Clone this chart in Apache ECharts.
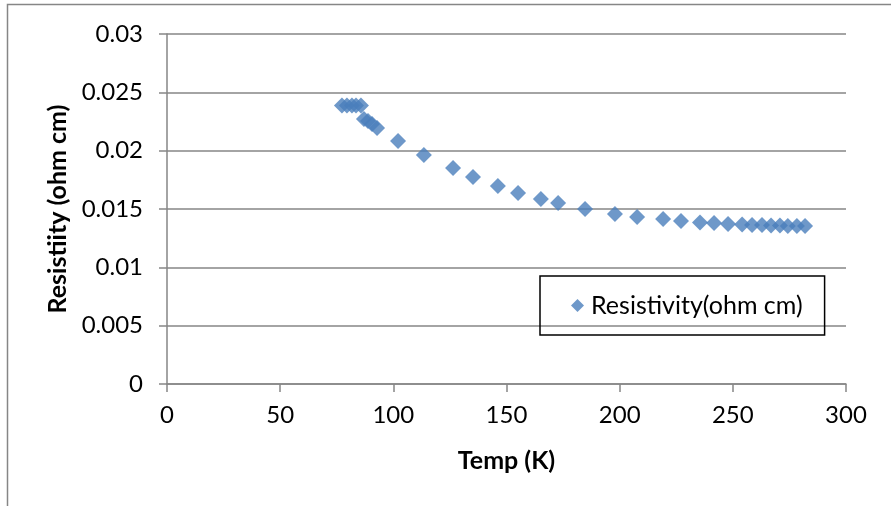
<!DOCTYPE html>
<html>
<head>
<meta charset="utf-8">
<script src="https://cdn.jsdelivr.net/npm/echarts@6/dist/echarts.min.js"></script>
<style>
  html, body { margin: 0; padding: 0; background: #fff; }
  #chart { width: 891px; height: 506px; }
</style>
</head>
<body>
<div id="chart"></div>
<script>
// Temperature sweep (K) and measured resistivity (ohm cm)
const temps = [77.3, 79.5, 81.7, 83.5, 85.7, 87.0, 88.8, 90.6, 92.8,
  102.1, 113.5, 126.4, 135.2, 146.2, 155.1, 165.2, 172.8, 184.7, 197.9,
  207.7, 219.2, 227.1, 235.5, 241.7, 247.9, 254.1, 258.5, 262.9, 266.9,
  270.8, 274.3, 278.3, 281.9];
const resistivity = [0.02387, 0.02387, 0.02387, 0.02387, 0.02387, 0.02271, 0.02254, 0.02229, 0.02195,
  0.02083, 0.01963, 0.01851, 0.01774, 0.01697, 0.01637, 0.01586, 0.01552, 0.01500, 0.01457,
  0.01431, 0.01414, 0.01397, 0.01384, 0.01380, 0.01371, 0.01367, 0.01363, 0.01363, 0.01359,
  0.01359, 0.01354, 0.01354, 0.01354];
const yTickLabels = ['0', '0.005', '0.01', '0.015', '0.02', '0.025', '0.03'];
const seriesName = 'Resistivity(ohm cm)';

const font = 'Lato, "Open Sans", sans-serif';
const grey = '#868686';

const chart = echarts.init(document.getElementById('chart'), null, { renderer: 'canvas' });
chart.setOption({
  animation: false,
  backgroundColor: '#fff',
  graphic: [{
    type: 'rect',
    shape: { x: 7.5, y: 4.5, width: 1000, height: 1000 },
    style: { fill: null, stroke: grey, lineWidth: 1.5 },
    silent: true
  }],
  grid: { left: 167, right: 45, top: 34, bottom: 122, containLabel: false },
  xAxis: {
    type: 'value', min: 0, max: 300, interval: 50,
    name: 'Temp (K)', nameLocation: 'middle', nameGap: 64,
    nameTextStyle: { fontFamily: font, fontSize: 25, fontWeight: 'bold', color: '#000' },
    axisLine: { show: true, onZero: false, lineStyle: { color: grey, width: 1.5 } },
    axisTick: { show: true, length: 8, lineStyle: { color: grey, width: 1.5 } },
    axisLabel: { fontFamily: font, fontSize: 24, color: '#000', margin: 19 },
    splitLine: { show: false }
  },
  yAxis: {
    type: 'value', min: 0, max: 0.03, interval: 0.005,
    name: 'Resistiity (ohm cm)', nameLocation: 'middle', nameGap: 94, nameRotate: 90,
    nameTextStyle: { fontFamily: font, fontSize: 25, fontWeight: 'bold', color: '#000' },
    axisLine: { show: true, lineStyle: { color: grey, width: 1.5 } },
    axisTick: { show: true, length: 8, lineStyle: { color: grey, width: 1.5 } },
    axisLabel: {
      fontFamily: font, fontSize: 24, color: '#000', margin: 24,
      formatter: (v) => yTickLabels[Math.round(v / 0.005)]
    },
    splitLine: { show: true, lineStyle: { color: grey, width: 1.5 } }
  },
  legend: {
    left: 540, top: 276,
    padding: [17, 22, 17, 31],
    borderColor: '#000', borderWidth: 1.5,
    itemWidth: 13, itemHeight: 13, itemGap: 6,
    icon: 'diamond',
    textStyle: { fontFamily: font, fontSize: 25, color: '#000', padding: [0, 0, 0, 2] },
    data: [seriesName]
  },
  series: [{
    name: seriesName,
    type: 'scatter',
    symbol: 'diamond',
    symbolSize: 16,
    itemStyle: { color: '#4A7EBB' },
    data: temps.map((t, i) => [t, resistivity[i]])
  }]
});
</script>
</body>
</html>
